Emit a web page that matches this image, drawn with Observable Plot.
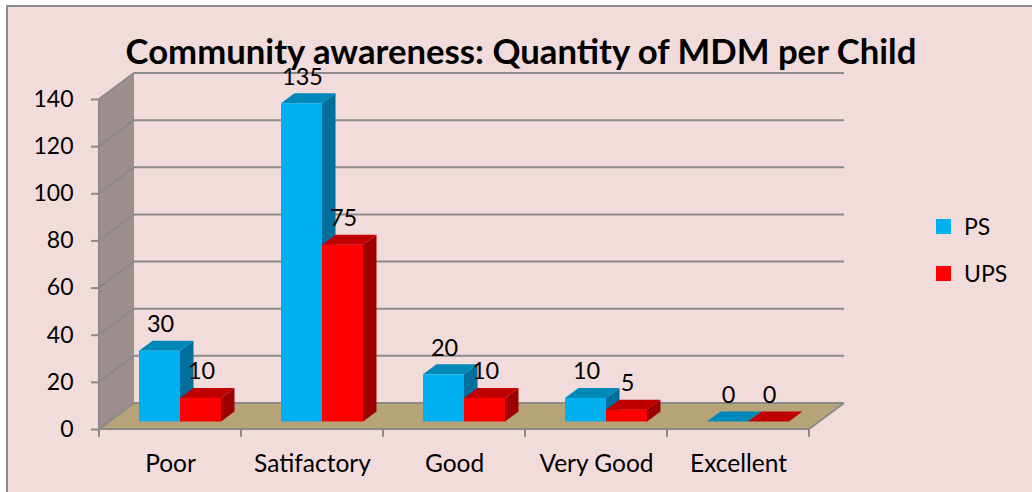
<!DOCTYPE html>
<html><head><meta charset="utf-8">
<script src="https://cdn.jsdelivr.net/npm/d3@7"></script>
<script src="https://cdn.jsdelivr.net/npm/@observablehq/plot@0.6"></script>
<style>
html,body{margin:0;padding:0;background:#fff;overflow:hidden}
#chart{position:relative;width:1032px;height:492px;font-family:Lato,sans-serif;color:#000}
#frame{position:absolute;left:6px;top:5px;right:-4px;bottom:-4px;background:#f2dcdb;border:2px solid #8c8c8c}
#chart svg{position:absolute;left:0;top:0;background:transparent!important}
h1{position:absolute;left:121px;top:28px;width:800px;margin:0;text-align:center;font-size:34.7px;line-height:46px;font-weight:700;white-space:nowrap;z-index:2}
.lg{position:absolute;left:936px;font-size:23px;line-height:26px;z-index:2}
.lg i{position:absolute;left:0;top:5px;width:15px;height:15px}
.lg span{position:absolute;left:28px;top:-1px}
</style></head><body>
<div id="chart"><div id="frame"></div><h1 id="title"></h1></div>
<script>
const titleText = "Community awareness: Quantity of MDM per Child";
const categories = ["Poor", "Satifactory", "Good", "Very Good", "Excellent"];
const psValues = [30, 135, 20, 10, 0];
const upsValues = [10, 75, 10, 5, 0];
const yTicks = [0, 20, 40, 60, 80, 100, 120, 140];
const seriesNames = ["PS", "UPS"];
const ps = categories.map((c, i) => ({category: c, value: psValues[i]}));
const ups = categories.map((c, i) => ({category: c, value: upsValues[i]}));

const DX = 35, DY = -26, BDX = 13.5, BDY = -10, BASE = -7.5;
const ns = "http://www.w3.org/2000/svg";
function poly(parent, pts, fill) {
  const p = document.createElementNS(ns, "polygon");
  p.setAttribute("points", pts.map(a => a.join(",")).join(" "));
  p.setAttribute("fill", fill);
  parent.appendChild(p);
}
function line(parent, x1, y1, x2, y2, w = 2) {
  const l = document.createElementNS(ns, "line");
  l.setAttribute("x1", x1); l.setAttribute("y1", y1);
  l.setAttribute("x2", x2); l.setAttribute("y2", y2);
  l.setAttribute("stroke", "#8a8a8a"); l.setAttribute("stroke-width", w);
  parent.appendChild(l);
}
// Walls, floor, and the tick marks that sit on band edges, all placed from the scales
function shell(index, {x, y}) {
  const g = document.createElementNS(ns, "g");
  const left = x(categories[0]), bw = x.bandwidth();
  const right = left + bw * categories.length;
  const y0 = y(0), yT = y(yTicks[yTicks.length - 1]);
  poly(g, [[left, yT], [left + DX, yT + DY], [left + DX, y0 + DY], [left, y0]], "#9c8f8d");
  poly(g, [[left, y0], [left + DX, y0 + DY], [right + DX, y0 + DY], [right, y0]], "#b6a478");
  for (const t of yTicks) {
    line(g, left, y(t), left + DX, y(t) + DY);
    line(g, left + DX, y(t) + DY, right + DX, y(t) + DY);
  }
  line(g, left, y0, right, y0);
  line(g, left, yT, left, y0);
  line(g, right, y0, right + DX, y0 + DY);
  categories.concat([null]).forEach((c, i) => line(g, left + i * bw, y0, left + i * bw, y0 + 8));
  return g;
}
function bars3d(data, insetLeft, insetRight, front, top, side) {
  return Plot.barY(data, {
    x: "category", y: "value", insetLeft, insetRight, dy: BASE, fill: front,
    render(index, scales, values, dimensions, context, next) {
      const node = next(index, scales, values, dimensions, context);
      const g = document.createElementNS(ns, "g");
      for (const i of index) {
        const x1 = values.x[i] + insetLeft;
        const x2 = x1 + scales.x.bandwidth() - insetLeft - insetRight;
        const yTop = scales.y(data[i].value) + BASE, yBot = scales.y(0) + BASE;
        poly(g, [[x2, yTop], [x2 + BDX, yTop + BDY], [x2 + BDX, yBot + BDY], [x2, yBot]], side);
        poly(g, [[x1, yTop], [x1 + BDX, yTop + BDY], [x2 + BDX, yTop + BDY], [x2, yTop]], top);
      }
      g.appendChild(node);
      return g;
    }
  });
}
const plot = Plot.plot({
  width: 1032, height: 492,
  marginLeft: 99, marginRight: 223, marginTop: 99, marginBottom: 63,
  style: {background: "transparent", fontFamily: "Lato, sans-serif", color: "#000"},
  x: {domain: categories, padding: 0, label: null},
  y: {domain: [0, 140], label: null},
  marks: [
    shell,
    Plot.axisY({ticks: yTicks, tickSize: 8, tickPadding: 18, fontSize: 23, label: null, stroke: "#8a8a8a", strokeWidth: 2, fill: "#000"}),
    Plot.axisX({tickSize: 0, tickPadding: 25, fontSize: 24.5, label: null, fill: "#000"}),
    bars3d(ps, 40, 61, "#00b0f0", "#0088b9", "#006f9d"),
    bars3d(ups, 81, 20, "#ff0000", "#c00000", "#9c0000"),
    Plot.text(ps, {x: "category", y: "value", text: "value", dx: -10, dy: -34, fontSize: 23.5, fill: "#000"}),
    Plot.text(ups, {x: "category", y: "value", text: "value", dx: 31, dy: -34, fontSize: 23.5, fill: "#000"})
  ]
});
const chart = document.getElementById("chart");
chart.appendChild(plot);
document.getElementById("title").textContent = titleText;
[["#00b0f0", 214], ["#ff0000", 261]].forEach(([c, top], i) => {
  const d = document.createElement("div");
  d.className = "lg"; d.style.top = top + "px";
  const sw = document.createElement("i"); sw.style.background = c;
  const s = document.createElement("span"); s.textContent = seriesNames[i];
  d.append(sw, s); chart.appendChild(d);
});
</script>
</body></html>
